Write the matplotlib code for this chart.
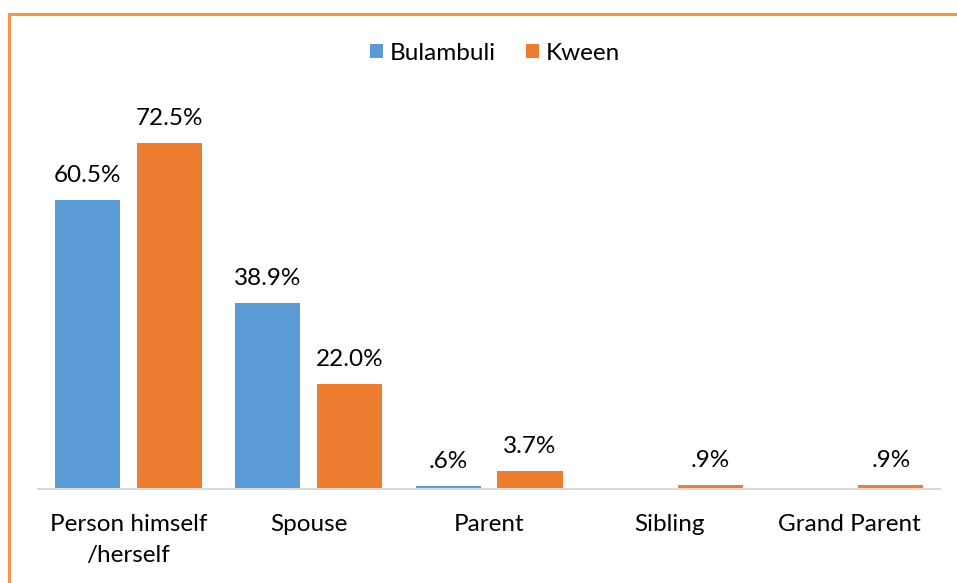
import matplotlib
matplotlib.use("Agg")
import matplotlib.pyplot as plt
from matplotlib.patches import Rectangle
import numpy as np

categories = ["Person himself\n/herself", "Spouse", "Parent", "Sibling", "Grand Parent"]
bulambuli = [60.5, 38.9, 0.6, 0.0, 0.0]
kween = [72.5, 22.0, 3.7, 0.9, 0.9]
bulambuli_labels = ["60.5%", "38.9%", ".6%", "", ""]
kween_labels = ["72.5%", "22.0%", "3.7%", ".9%", ".9%"]

plt.rcParams['font.family'] = ['Lato', 'DejaVu Sans']

W, H = 957, 583
fig = plt.figure(figsize=(W / 100, H / 100), dpi=100)
fig.patch.set_facecolor("white")

# orange frame (cropped on right/bottom)
fig.patches.append(Rectangle((9 / W, -0.2), 1.3, 1 - 14 / H + 0.2, transform=fig.transFigure,
                             fill=False, edgecolor="#F79646", linewidth=2.2))

ax = fig.add_axes([38 / W, 94 / H, (940 - 38) / W, 382 / H])
x = np.arange(len(categories))
bw = 65 / 180.4
gap = 17 / 180.4
off = (bw + gap) / 2
b1 = ax.bar(x - off, bulambuli, bw, color="#5B9BD5", label="Bulambuli")
b2 = ax.bar(x + off, kween, bw, color="#ED7D31", label="Kween")

FS = 17.5
for rects, labs in ((b1, bulambuli_labels), (b2, kween_labels)):
    for r, lab in zip(rects, labs):
        if lab:
            ax.annotate(lab, (r.get_x() + r.get_width() / 2, r.get_height()),
                        xytext=(0, 10), textcoords="offset points",
                        ha="center", va="bottom", fontsize=FS, color="#000000")

ax.set_xlim(-0.5, len(categories) - 0.5)
ax.set_ylim(0, 80)
ax.set_xticks(x)
ax.set_xticklabels(categories, fontsize=FS, linespacing=1.6, va="top")
ax.tick_params(axis="x", length=0, pad=18)
ax.set_yticks([])
for s in ("top", "right", "left"):
    ax.spines[s].set_visible(False)
ax.spines["bottom"].set_color("#D9D9D9")
ax.spines["bottom"].set_linewidth(1.5)

fig.legend(handles=[b1, b2], labels=["Bulambuli", "Kween"], loc="center",
           bbox_to_anchor=(495 / W, 1 - 53 / H), ncol=2, frameon=False,
           fontsize=FS, handlelength=0.55, handleheight=0.55, handletextpad=0.3,
           columnspacing=1.2)

fig.savefig("out.png", dpi=100)
